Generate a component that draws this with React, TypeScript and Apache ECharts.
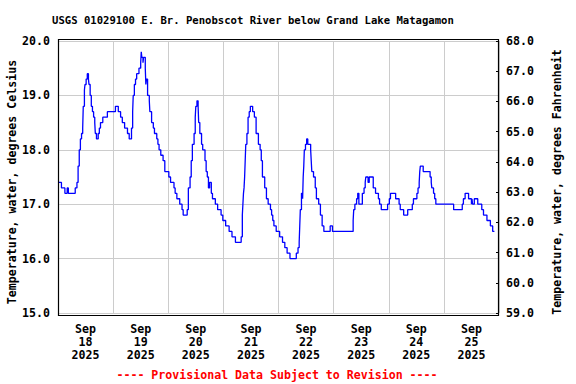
import React, { useEffect, useRef } from "react";
import * as echarts from "echarts";

const chartTitle = "USGS 01029100 E. Br. Penobscot River below Grand Lake Matagamon";
const footerText = "---- Provisional Data Subject to Revision ----";
const leftAxisName = "Temperature, water, degrees Celsius";
const rightAxisName = "Temperature, water, degrees Fahrenheit";

const dayLabels = [
  "Sep\n18\n2025",
  "Sep\n19\n2025",
  "Sep\n20\n2025",
  "Sep\n21\n2025",
  "Sep\n22\n2025",
  "Sep\n23\n2025",
  "Sep\n24\n2025",
  "Sep\n25\n2025",
];

// hours since 2025-09-18 00:00 at which the reading changes
const hours = [
  0, 1.5, 3.0, 4.0, 4.5, 7.5, 8.25, 8.75, 9.25, 9.75, 10.25, 10.75, 11.0, 11.5, 11.75, 12.25, 12.75, 13.25, 13.5, 14.0,
  14.5, 15.0, 15.5, 16.0, 16.25, 16.75, 17.5, 18.0, 18.5, 19.5, 21.5, 25.0, 26.25, 27.25, 28.0, 29.0, 30.25, 31.0, 32.0,
  32.5, 32.75, 33.25, 33.75, 34.25, 35.25, 36.0, 36.25, 36.5, 37.0, 37.25, 38.0, 38.25, 38.5, 39.0, 39.75, 40.0, 40.75,
  41.5, 42.0, 43.0, 43.5, 44.0, 44.75, 45.75, 46.5, 48.25, 49.0, 50.5, 51.0, 51.75, 53.0, 54.0, 54.5, 56.25, 56.75, 57.5,
  58.0, 58.5, 59.25, 59.75, 60.0, 60.5, 61.0, 61.25, 61.75, 62.5, 63.0, 64.0, 64.5, 65.0, 65.5, 66.0, 66.75, 67.25, 68.5,
  69.5, 71.0, 71.75, 73.0, 74.5, 75.75, 77.25, 79.75, 80.25, 80.5, 80.75, 81.0, 81.25, 81.5, 81.75, 82.25, 82.75, 83.25,
  83.75, 84.75, 85.5, 86.25, 87.25, 88.0, 88.5, 89.0, 90.0, 90.75, 91.5, 92.5, 93.0, 93.5, 94.0, 95.0, 96.5, 97.75, 98.75,
  99.75, 101.0, 103.75, 104.5, 105.0, 105.25, 105.5, 106.0, 106.5, 106.75, 107.0, 107.25, 107.75, 108.25, 108.75, 110.0,
  110.25, 110.5, 111.25, 112.0, 112.5, 113.5, 114.25, 115.0, 115.75, 118.5, 119.5, 128.5, 128.75, 129.25, 130.0, 130.5,
  131.0, 132.5, 133.25, 133.75, 134.0, 135.0, 135.5, 137.25, 138.25, 139.5, 140.0, 140.75, 143.5, 144.25, 144.75, 147.0,
  148.5, 149.0, 150.5, 152.25, 154.25, 154.75, 156.25, 156.75, 157.25, 157.5, 157.75, 159.0, 162.0, 162.5, 162.75, 163.5,
  164.0, 164.5, 172.25, 176.0, 176.5, 177.25, 178.75, 180.0, 180.25, 180.5, 181.25, 182.75, 184.5, 185.25, 186.75, 188.25,
  189.25, 190.0,
];

const tempC = [
  17.4, 17.3, 17.2, 17.3, 17.2, 17.3, 17.4, 17.7, 18.0, 18.2, 18.3, 18.4, 18.8, 19.1, 19.2, 19.3, 19.4, 19.3, 19.2, 19.0,
  18.8, 18.7, 18.6, 18.5, 18.3, 18.2, 18.3, 18.4, 18.5, 18.6, 18.7, 18.8, 18.7, 18.6, 18.5, 18.4, 18.3, 18.2, 18.4,
  18.7, 19.0, 19.2, 19.3, 19.4, 19.5, 19.6, 19.8, 19.7, 19.6, 19.7, 19.5, 19.2, 19.3, 19.0, 18.9, 18.7, 18.5,
  18.4, 18.3, 18.2, 18.1, 18.0, 17.9, 17.8, 17.6, 17.5, 17.4, 17.3, 17.2, 17.1, 17.0, 16.9, 16.8, 16.9, 17.3, 17.5,
  17.8, 18.1, 18.3, 18.6, 18.8, 18.9, 18.8, 18.5, 18.3, 18.1, 18.0, 17.8, 17.6, 17.5, 17.3, 17.4, 17.2, 17.1, 17.0,
  16.9, 16.8, 16.7, 16.6, 16.5, 16.4, 16.3, 16.4, 16.8, 17.0, 17.2, 17.3, 17.5, 17.8, 18.1, 18.3, 18.6, 18.7,
  18.8, 18.7, 18.6, 18.3, 18.1, 18.0, 17.8, 17.5, 17.3, 17.1, 17.0, 16.9, 16.8, 16.7, 16.6, 16.5, 16.4, 16.3, 16.2,
  16.1, 16.0, 16.1, 16.2, 16.3, 16.6, 16.9, 17.2, 17.1, 17.5, 17.7, 18.0, 18.1, 18.2, 18.1, 18.0,
  17.8, 17.6, 17.5, 17.3, 17.1, 17.0, 16.8, 16.6, 16.5, 16.6, 16.5, 16.7, 16.9, 17.0, 17.1, 17.2,
  17.0, 17.2, 17.3, 17.4, 17.5, 17.4, 17.5, 17.3, 17.2, 17.1, 17.0, 16.9, 17.0, 17.1, 17.2, 17.1,
  17.0, 16.9, 16.8, 16.9, 17.0, 17.1, 17.2, 17.3, 17.4, 17.6, 17.7, 17.6, 17.5, 17.4, 17.3, 17.2,
  17.1, 17.0, 16.9, 17.0, 17.1, 17.2, 17.1, 17.0, 17.1, 17.0, 17.1, 17.0, 16.9, 16.8, 16.7, 16.6,
  16.5, 16.5,
];

const celsiusMin = 15;
const celsiusMax = 20;
const fahrenheitMin = 59;
const fahrenheitMax = 68;
const hoursTotal = 192;
const hoursPerDay = 24;

const FONT = "'DejaVu Sans Mono', monospace";

export default function App() {
  const ref = useRef<HTMLDivElement>(null);

  useEffect(() => {
    if (!ref.current) return;
    const chart = echarts.init(ref.current, null, { renderer: "svg" });
    const labelStyle = {
      color: "#000",
      fontFamily: FONT,
      fontWeight: "bold" as const,
      fontSize: 11.6,
    };
    chart.setOption({
      animation: false,
      backgroundColor: "#fff",
      grid: { left: 58, right: 77, top: 41, bottom: 71, containLabel: false },
      xAxis: [
        {
          type: "value",
          position: "bottom",
          min: 0,
          max: hoursTotal,
          interval: hoursPerDay,
          axisLine: { show: false },
          axisTick: { show: false },
          axisLabel: { show: false },
          splitLine: { show: true, lineStyle: { color: "#cccccc", width: 1 } },
        },
        {
          type: "category",
          position: "bottom",
          data: dayLabels,
          boundaryGap: true,
          axisLine: { show: false },
          axisTick: { show: false },
          splitLine: { show: false },
          axisLabel: { ...labelStyle, interval: 0, lineHeight: 12.7, margin: 10 },
        },
      ],
      yAxis: [
        {
          type: "value",
          position: "left",
          min: celsiusMin,
          max: celsiusMax,
          interval: 1,
          axisLine: { show: false },
          axisTick: { show: false },
          axisLabel: { ...labelStyle, margin: 8, formatter: (v: number) => v.toFixed(1) },
          splitLine: { show: true, lineStyle: { color: "#cccccc", width: 1 } },
        },
        {
          type: "value",
          position: "right",
          min: fahrenheitMin,
          max: fahrenheitMax,
          interval: 1,
          axisLine: { show: false },
          axisTick: { show: true, inside: true, length: 3, lineStyle: { color: "#000" } },
          axisLabel: { ...labelStyle, margin: 7, formatter: (v: number) => v.toFixed(1) },
          splitLine: { show: false },
        },
      ],
      graphic: [
        {
          type: "rect",
          z: 100,
          shape: { x: 58.5, y: 39.5, width: 440, height: 276 },
          style: { fill: "none", stroke: "#000", lineWidth: 1.2 },
          silent: true,
        },
        {
          type: "text",
          x: 52,
          y: 20,
          style: {
            text: chartTitle,
            fill: "#000",
            font: `bold 10.6px ${FONT}`,
            textAlign: "left",
            textVerticalAlign: "middle",
          },
        },
        {
          type: "text",
          x: 277,
          y: 375,
          style: {
            text: footerText,
            fill: "#ff0000",
            font: `bold 11.6px ${FONT}`,
            textAlign: "center",
            textVerticalAlign: "middle",
          },
        },
        {
          type: "text",
          x: 12,
          y: 182,
          rotation: Math.PI / 2,
          style: {
            text: leftAxisName,
            fill: "#000",
            font: `bold 11.6px ${FONT}`,
            textAlign: "center",
            textVerticalAlign: "middle",
          },
        },
        {
          type: "text",
          x: 557,
          y: 182,
          rotation: Math.PI / 2,
          style: {
            text: rightAxisName,
            fill: "#000",
            font: `bold 11.6px ${FONT}`,
            textAlign: "center",
            textVerticalAlign: "middle",
          },
        },
      ],
      series: [
        {
          type: "line",
          xAxisIndex: 0,
          yAxisIndex: 0,
          step: "end",
          showSymbol: false,
          symbol: "none",
          lineStyle: { color: "#0000ff", width: 1.3 },
          data: hours.map((h, i) => [h, tempC[i]]),
        },
      ],
    });
    return () => chart.dispose();
  }, []);

  return <div ref={ref} style={{ width: 576, height: 384, position: "absolute", left: 0, top: 0 }} />;
}
